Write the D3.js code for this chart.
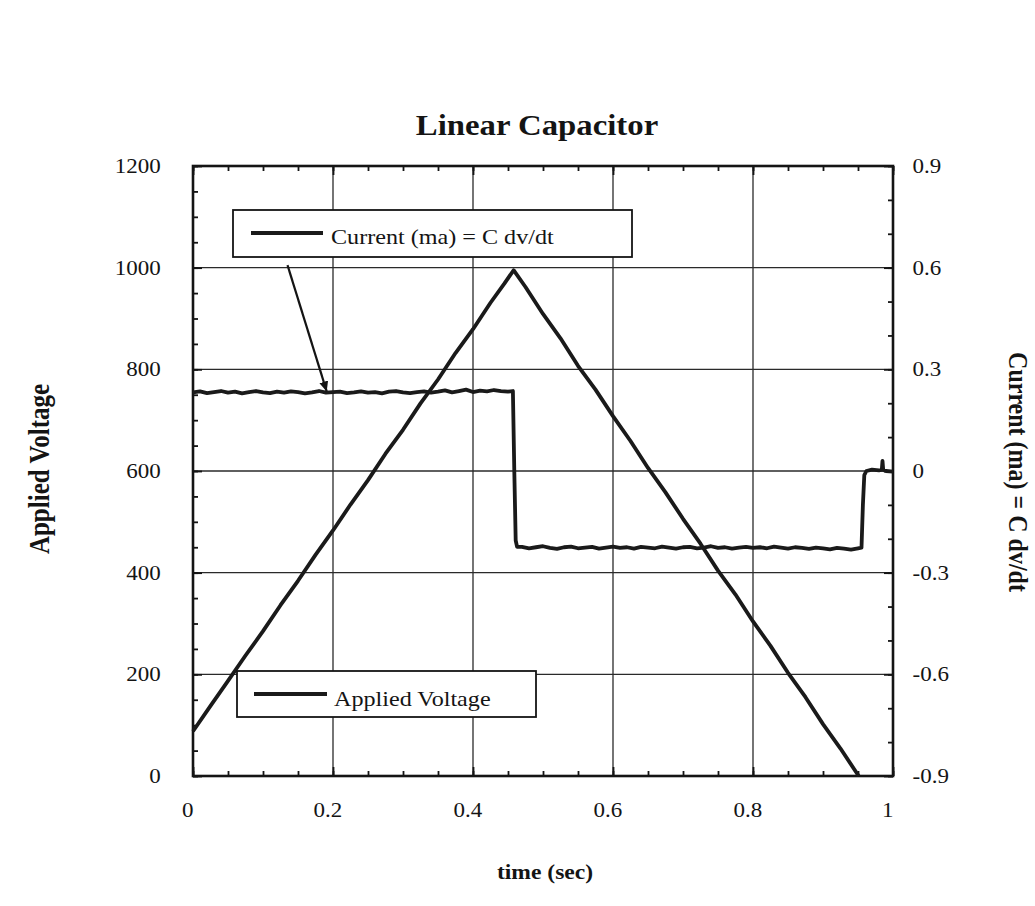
<!DOCTYPE html>
<html>
<head>
<meta charset="utf-8">
<script src="https://cdn.jsdelivr.net/npm/d3@7"></script>
<style>
  html, body { margin: 0; padding: 0; background: #ffffff; }
  svg { display: block; font-family: "Liberation Serif", "Times New Roman", serif; }
</style>
</head>
<body>
<svg id="chart" width="1035" height="906"></svg>
<script>
// ---------------- data ----------------
const chartTitle = "Linear Capacitor";
const xTitle = "time (sec)";
const yLeftTitle = "Applied Voltage";
const yRightTitle = "Current (ma) = C dv/dt";
const legendLabels = ["Current (ma) = C dv/dt", "Applied Voltage"];

const xTicks = [0, 0.2, 0.4, 0.6, 0.8, 1];
const yLeftTicks = [0, 200, 400, 600, 800, 1000, 1200];
const yRightTicks = [-0.9, -0.6, -0.3, 0, 0.3, 0.6, 0.9];
const yRightLabels = ["-0.9", "-0.6", "-0.3", "0", "0.3", "0.6", "0.9"];

// applied voltage (V) vs time (s)
const voltageTime = [0, 0.025, 0.05, 0.075, 0.1, 0.125, 0.15, 0.175, 0.2, 0.225, 0.25, 0.275, 0.3, 0.325, 0.35, 0.375, 0.4, 0.425, 0.445, 0.458,
  0.475, 0.5, 0.525, 0.55, 0.575, 0.6, 0.625, 0.65, 0.675, 0.7, 0.725, 0.75, 0.775, 0.8, 0.825, 0.85, 0.875, 0.9, 0.925, 0.951];
const voltageValue = [88, 138, 187, 237, 285, 336, 384, 435, 483, 534, 582, 634, 681, 733, 780, 832, 879, 931, 969, 995,
  962, 909, 861, 807, 760, 708, 659, 606, 558, 506, 457, 404, 357, 304, 256, 203, 155, 102, 54, 0];

// current (mA) vs time (s)
const currentTime = [
  0, 0.01, 0.02, 0.03, 0.04, 0.05, 0.06, 0.07, 0.08, 0.09, 0.10, 0.11, 0.12, 0.13, 0.14, 0.15, 0.16, 0.17, 0.18, 0.19,
  0.20, 0.21, 0.22, 0.23, 0.24, 0.25, 0.26, 0.27, 0.28, 0.29, 0.30, 0.31, 0.32, 0.33, 0.34, 0.35, 0.36, 0.37, 0.38, 0.39,
  0.40, 0.41, 0.42, 0.43, 0.44, 0.45, 0.457, 0.459, 0.461, 0.463,
  0.47, 0.48, 0.49, 0.50, 0.51, 0.52, 0.53, 0.54, 0.55, 0.56, 0.57, 0.58, 0.59, 0.60, 0.61, 0.62, 0.63, 0.64, 0.65, 0.66,
  0.67, 0.68, 0.69, 0.70, 0.71, 0.72, 0.73, 0.74, 0.75, 0.76, 0.77, 0.78, 0.79, 0.80, 0.81, 0.82, 0.83, 0.84, 0.85, 0.86,
  0.87, 0.88, 0.89, 0.90, 0.91, 0.92, 0.93, 0.94, 0.95, 0.955, 0.957, 0.959, 0.962,
  0.97, 0.98, 0.984, 0.985, 0.986, 0.99, 1.0];
const currentValue = [
  0.232, 0.235, 0.230, 0.233, 0.236, 0.231, 0.234, 0.229, 0.233, 0.236, 0.232, 0.230, 0.234, 0.231, 0.235, 0.233, 0.229, 0.232, 0.236, 0.231,
  0.233, 0.234, 0.230, 0.232, 0.235, 0.231, 0.233, 0.229, 0.234, 0.236, 0.232, 0.230, 0.233, 0.235, 0.231, 0.234, 0.238, 0.232, 0.236, 0.240,
  0.233, 0.237, 0.235, 0.239, 0.236, 0.234, 0.236, 0.0, -0.205, -0.224,
  -0.224, -0.228, -0.225, -0.222, -0.227, -0.230, -0.225, -0.223, -0.228, -0.226, -0.224, -0.229, -0.226, -0.223, -0.227, -0.225, -0.229, -0.224, -0.226, -0.228,
  -0.223, -0.226, -0.229, -0.225, -0.224, -0.228, -0.226, -0.222, -0.227, -0.225, -0.229, -0.226, -0.224, -0.227, -0.225, -0.228, -0.223, -0.226, -0.229, -0.225,
  -0.227, -0.230, -0.226, -0.228, -0.231, -0.227, -0.229, -0.232, -0.228, -0.226, -0.10, -0.012, 0.0,
  0.004, 0.002, 0.003, 0.030, 0.003, 0.0, -0.002];

// annotation arrow: tail (time, voltage) -> head (time, current)
const arrowTail = [0.135, 1005];
const arrowHead = [0.191, 0.226];

// ---------------- layout ----------------
const svg = d3.select("#chart");
const W = 1035, H = 906;
const m = { left: 193, right: 893, top: 166, bottom: 776 };
const SX = 1.15; // horizontal stretch of the scanned figure's text
const ink = "#141414";

svg.append("rect").attr("width", W).attr("height", H).attr("fill", "#ffffff");

const x = d3.scaleLinear().domain([0, 1]).range([m.left, m.right]);
const y = d3.scaleLinear().domain([0, 1200]).range([m.bottom, m.top]);
const y2 = d3.scaleLinear().domain([-0.9, 0.9]).range([m.bottom, m.top]);

// gridlines
const grid = svg.append("g").attr("stroke", "#2a2a2a").attr("stroke-width", 1.3);
xTicks.filter(d => d > 0 && d < 1).forEach(d => {
  grid.append("line").attr("x1", x(d)).attr("x2", x(d)).attr("y1", m.top).attr("y2", m.bottom);
});
yLeftTicks.filter(d => d > 0 && d < 1200).forEach(d => {
  grid.append("line").attr("x1", m.left).attr("x2", m.right).attr("y1", y(d)).attr("y2", y(d));
});

// axes
function styleAxis(g) {
  g.select(".domain").remove();
  g.selectAll(".tick line").attr("stroke", ink).attr("stroke-width", 1.8);
  g.selectAll(".tick text")
    .attr("fill", ink)
    .style("font-family", '"Liberation Serif", serif')
    .style("font-size", "20px")
    .attr("transform", `scale(${SX},1)`);
}
const minorX = d3.range(0, 1.0001, 0.05);
const minorY = d3.range(0, 1200.1, 50);
const minorY2 = d3.range(-0.9, 0.9001, 0.1);

svg.append("g").attr("transform", `translate(0,${m.bottom})`)
  .call(d3.axisBottom(x).tickValues(minorX).tickSizeInner(-5).tickSizeOuter(0).tickFormat(""))
  .call(styleAxis);
svg.append("g").attr("transform", `translate(0,${m.bottom})`)
  .call(d3.axisBottom(x).tickValues(xTicks).tickSizeInner(-9).tickSizeOuter(0).tickPadding(27).tickFormat(d3.format("")))
  .call(styleAxis)
  .selectAll(".tick text").attr("x", -5);
svg.append("g").attr("transform", `translate(0,${m.top})`)
  .call(d3.axisTop(x).tickValues(minorX).tickSizeInner(-5).tickSizeOuter(0).tickFormat(""))
  .call(styleAxis);
svg.append("g").attr("transform", `translate(0,${m.top})`)
  .call(d3.axisTop(x).tickValues(xTicks).tickSizeInner(-9).tickSizeOuter(0).tickFormat(""))
  .call(styleAxis);

svg.append("g").attr("transform", `translate(${m.left},0)`)
  .call(d3.axisLeft(y).tickValues(minorY).tickSizeInner(-5).tickSizeOuter(0).tickFormat(""))
  .call(styleAxis);
svg.append("g").attr("transform", `translate(${m.left},0)`)
  .call(d3.axisLeft(y).tickValues(yLeftTicks).tickSizeInner(-9).tickSizeOuter(0).tickPadding(28).tickFormat(d3.format("")))
  .call(styleAxis);

svg.append("g").attr("transform", `translate(${m.right},0)`)
  .call(d3.axisRight(y2).tickValues(minorY2).tickSizeInner(-5).tickSizeOuter(0).tickFormat(""))
  .call(styleAxis);
svg.append("g").attr("transform", `translate(${m.right},0)`)
  .call(d3.axisRight(y2).tickValues(yRightTicks).tickSizeInner(-9).tickSizeOuter(0).tickPadding(17)
    .tickFormat((d, i) => yRightLabels[i]))
  .call(styleAxis)
  .selectAll(".tick text").attr("text-anchor", "start");

// frame
svg.append("rect")
  .attr("x", m.left).attr("y", m.top)
  .attr("width", m.right - m.left).attr("height", m.bottom - m.top)
  .attr("fill", "none").attr("stroke", ink).attr("stroke-width", 2.6);

// data lines
const vLine = d3.line().x((d, i) => x(voltageTime[i])).y(d => y(d));
svg.append("path").datum(voltageValue)
  .attr("d", vLine).attr("fill", "none").attr("stroke", "#1a1a1a")
  .attr("stroke-width", 3.8).attr("stroke-linejoin", "round");

const cLine = d3.line().x((d, i) => x(currentTime[i])).y(d => y2(d));
svg.append("path").datum(currentValue)
  .attr("d", cLine).attr("fill", "none").attr("stroke", "#1a1a1a")
  .attr("stroke-width", 3.8).attr("stroke-linejoin", "round");

// text helper (scanned figure text is stretched horizontally)
function label(px, py, str, opts) {
  const o = Object.assign({ size: 20, weight: "normal", anchor: "start", rotate: 0, sx: SX }, opts || {});
  return svg.append("text")
    .attr("transform", `translate(${px},${py}) scale(${o.sx},1) rotate(${o.rotate})`)
    .attr("text-anchor", o.anchor)
    .attr("fill", ink)
    .style("font-size", o.size + "px")
    .style("font-weight", o.weight)
    .text(str);
}

// legends
function legend(bx, by, bw, bh, lx1, lx2, ly, tx, ty, str) {
  svg.append("rect").attr("x", bx).attr("y", by).attr("width", bw).attr("height", bh)
    .attr("fill", "#ffffff").attr("stroke", ink).attr("stroke-width", 1.8);
  svg.append("line").attr("x1", lx1).attr("x2", lx2).attr("y1", ly).attr("y2", ly)
    .attr("stroke", "#1a1a1a").attr("stroke-width", 3.8);
  label(tx, ty, str, { size: 21 });
}
legend(233, 210, 399, 47, 251, 323, 233, 331, 244, legendLabels[0]);
legend(237, 671, 299, 46, 254, 327, 694, 334, 706, legendLabels[1]);

// arrow annotation
svg.append("defs").append("marker")
  .attr("id", "arrowhead").attr("viewBox", "0 0 10 10")
  .attr("refX", 10).attr("refY", 5)
  .attr("markerWidth", 10).attr("markerHeight", 10)
  .attr("markerUnits", "userSpaceOnUse")
  .attr("orient", "auto")
  .append("path").attr("d", "M0,0.5 L10,5 L0,9.5 Z").attr("fill", ink);
svg.append("line")
  .attr("x1", x(arrowTail[0])).attr("y1", y(arrowTail[1]))
  .attr("x2", x(arrowHead[0])).attr("y2", y2(arrowHead[1]) - 3)
  .attr("stroke", ink).attr("stroke-width", 2.2)
  .attr("marker-end", "url(#arrowhead)");

// titles
label(537, 135, chartTitle, { size: 28.5, weight: "bold", anchor: "middle" });
label(545, 879, xTitle, { size: 20.5, weight: "bold", anchor: "middle" });
label(49, 469, yLeftTitle, { size: 25, weight: "bold", anchor: "middle", rotate: -90 });
label(1009, 472, yRightTitle, { size: 24, weight: "bold", anchor: "middle", rotate: 90 });
</script>
</body>
</html>
